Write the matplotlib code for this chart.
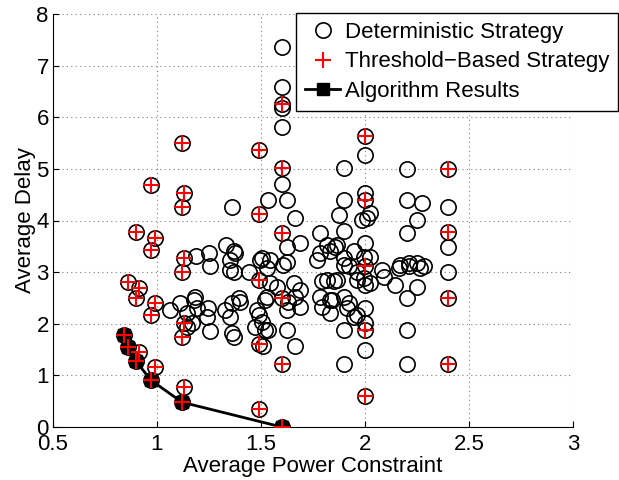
import numpy as np
import matplotlib
matplotlib.use("Agg")
from matplotlib import pyplot as plt

plt.rcParams['font.family'] = ['Liberation Sans', 'DejaVu Sans']

# algorithm results (curve)
alg_x = [0.84, 0.86, 0.90, 0.97, 1.12, 1.60]
alg_y = [1.78, 1.55, 1.27, 0.91, 0.48, 0.00]

# threshold-based strategy (red plus)
thr_x = [0.84, 0.86, 0.90, 0.915, 0.97, 0.99, 1.12, 1.13, 1.12, 1.13, 0.97, 0.99,
         0.90, 0.915, 0.86, 0.90, 0.97, 0.99, 0.97, 1.12, 1.13, 1.12, 1.13, 1.12,
         1.49, 1.49, 1.49, 1.49, 1.49,
         1.60, 1.60, 1.60, 1.60, 1.60, 1.60,
         2.00, 2.00, 2.00, 2.00, 2.00,
         2.40, 2.40, 2.40, 2.40]
thr_y = [1.78, 1.55, 1.27, 1.46, 0.91, 1.16, 0.48, 0.78, 1.74, 2.02, 2.17, 2.40,
         2.50, 2.70, 2.80, 3.77, 3.42, 3.66, 4.68, 3.01, 3.27, 4.26, 4.53, 5.51,
         0.34, 1.61, 2.85, 4.12, 5.37,
         0.00, 1.23, 2.49, 3.75, 5.01, 6.26,
         0.60, 1.87, 3.11, 4.40, 5.64,
         1.23, 2.49, 3.77, 5.00]

# deterministic strategy (extra circles, besides the threshold points)
det_extra = [
    (1.60, 7.37), (1.60, 6.58), (1.60, 6.18), (1.60, 5.82), (1.60, 4.71), (1.625, 4.40),
    (1.625, 3.49), (1.625, 3.20), (1.608, 3.14), (1.625, 2.27), (1.625, 1.88), (1.665, 1.56),
    (1.632, 2.43), (1.665, 2.52), (1.689, 2.33), (1.689, 2.66), (1.657, 2.79), (1.665, 4.04),
    (1.689, 3.57),
    (1.536, 4.40), (1.504, 3.27), (1.544, 3.24), (1.528, 3.08), (1.544, 2.79), (1.576, 2.72),
    (1.52, 2.46), (1.48, 2.27), (1.504, 2.04), (1.52, 1.88), (1.512, 1.56), (1.496, 3.24),
    (1.488, 2.17), (1.472, 1.94), (1.528, 2.52), (1.536, 1.88),
    (1.36, 4.26), (1.333, 3.53), (1.368, 3.40), (1.352, 3.24), (1.352, 3.04), (1.368, 3.01),
    (1.44, 3.01), (1.328, 2.27), (1.36, 2.40), (1.40, 2.43), (1.352, 2.14), (1.36, 1.82),
    (1.368, 1.75), (1.376, 3.37), (1.392, 2.49),
    (1.188, 3.31), (1.252, 3.38), (1.256, 3.11), (1.063, 2.27), (1.111, 2.40), (1.179, 2.46),
    (1.183, 2.52), (1.191, 2.30), (1.247, 2.30), (1.24, 2.14), (1.256, 1.85), (1.143, 2.20),
    (1.167, 2.01), (1.143, 1.94),
    (1.873, 4.11), (1.897, 3.79), (1.785, 3.75), (1.817, 3.53), (1.857, 3.49), (1.769, 3.24),
    (1.785, 3.37), (1.833, 3.40), (1.897, 3.27), (1.921, 3.11), (1.945, 3.40), (1.897, 5.01),
    (1.897, 4.40), (1.865, 3.53), (1.897, 3.14), (1.961, 3.01), (1.817, 2.85), (1.849, 2.82),
    (1.865, 2.85), (1.793, 2.82), (1.961, 2.85), (1.785, 2.52), (1.793, 2.33), (1.833, 2.20),
    (1.841, 2.46), (1.897, 2.52), (1.913, 2.30), (1.945, 2.14), (1.897, 1.88), (1.833, 2.46),
    (1.921, 2.40), (1.961, 2.17), (1.90, 1.23),
    (2.00, 5.27), (2.00, 4.54), (1.985, 4.01), (2.01, 4.04), (2.025, 4.14), (2.00, 3.56),
    (1.993, 3.30), (2.025, 3.30), (1.993, 2.88), (2.00, 2.75), (2.025, 2.79), (2.00, 2.30),
    (2.00, 2.01), (2.00, 1.49),
    (2.20, 5.00), (2.20, 4.40), (2.274, 4.33), (2.25, 4.01), (2.20, 3.75), (2.17, 3.14),
    (2.21, 3.17), (2.25, 3.17), (2.282, 3.11), (2.08, 3.04), (2.162, 3.08), (2.21, 3.11),
    (2.266, 3.08), (2.09, 2.91), (2.146, 2.75), (2.25, 2.72), (2.20, 2.49), (2.20, 1.88),
    (2.20, 1.23),
    (2.40, 4.26), (2.40, 3.49), (2.40, 3.00),
]
det_x = thr_x + [p[0] for p in det_extra]
det_y = thr_y + [p[1] for p in det_extra]

fig = plt.figure(figsize=(6.19, 4.80), dpi=100)
ax = fig.add_axes([53/619, 1-427/480, 520/619, 413/480])

h_det, = ax.plot(det_x, det_y, 'o', mfc='none', mec='black', ms=11, mew=1.2,
                 zorder=2, label='Deterministic Strategy')
h_alg, = ax.plot(alg_x, alg_y, '-s', color='black', lw=2, ms=8, mfc='black',
                 zorder=3, label='Algorithm Results')
h_thr, = ax.plot(thr_x, thr_y, '+', color='red', ms=11, mew=1.5,
                 zorder=4, label='Threshold\u2212Based Strategy')

ax.set_xlim(0.5, 3)
ax.set_ylim(0, 8)
ax.set_xticks([0.5, 1, 1.5, 2, 2.5, 3])
ax.set_xticklabels(['0.5', '1', '1.5', '2', '2.5', '3'])
ax.set_yticks(range(9))
ax.tick_params(direction='in', labelsize=16, length=4)
ax.tick_params(axis='x', pad=5)
ax.tick_params(axis='y', pad=3)
ax.grid(True, linestyle=(0, (1, 3)), color='gray', linewidth=0.8)
ax.spines['top'].set_visible(False)
ax.spines['right'].set_visible(False)

ax.set_xlabel('Average Power Constraint', fontsize=16, labelpad=1)
ax.set_ylabel('Average Delay', fontsize=16, labelpad=0)

leg = ax.legend(handles=[h_det, h_thr, h_alg], loc='upper left',
                bbox_to_anchor=(296/619, 1-13/480), bbox_transform=fig.transFigure,
                borderaxespad=0, fancybox=False, edgecolor='black', framealpha=1,
                fontsize=16, handlelength=1.6, handletextpad=0.2, labelspacing=0.38,
                borderpad=0.4)
leg.get_frame().set_linewidth(1.0)

fig.savefig('out.png', dpi=100)
